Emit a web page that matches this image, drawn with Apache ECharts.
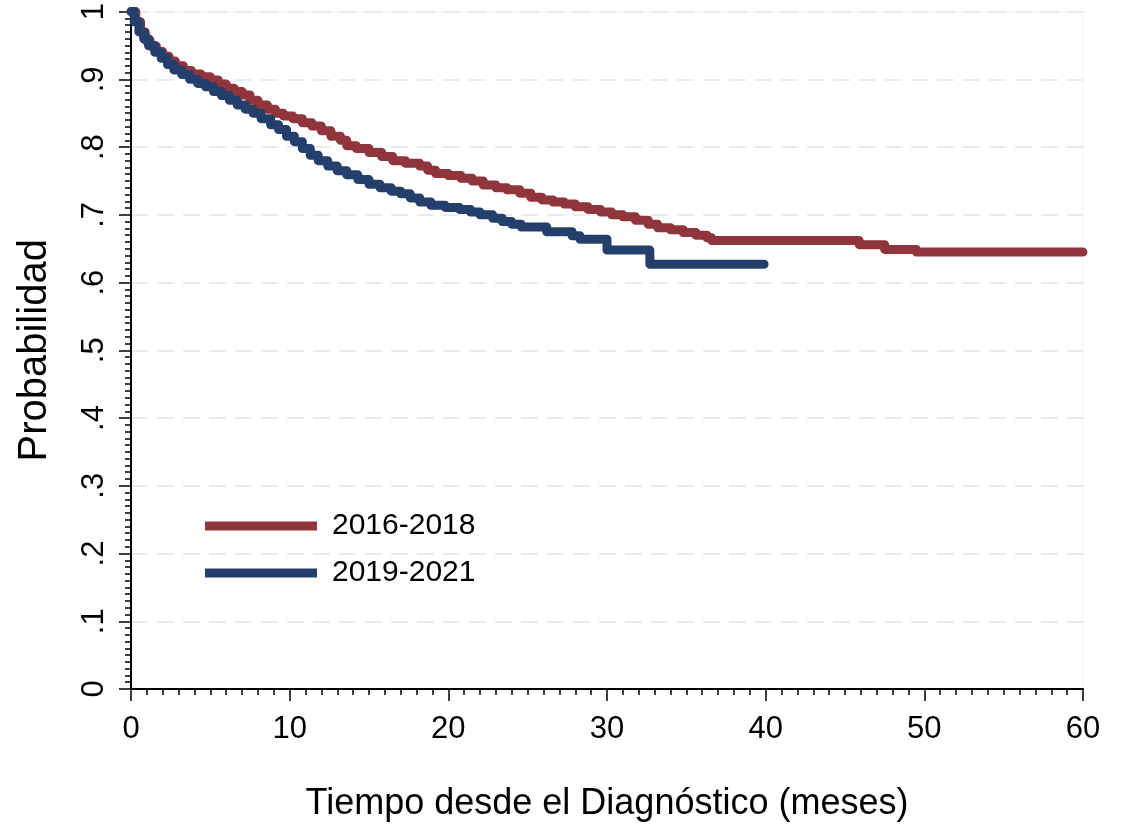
<!DOCTYPE html>
<html>
<head>
<meta charset="utf-8">
<title>Probabilidad</title>
<script src="https://cdn.jsdelivr.net/npm/echarts@6/dist/echarts.min.js"></script>
<style>
  html, body { margin: 0; padding: 0; background: #fff; }
  #chart { width: 1122px; height: 832px; }
</style>
</head>
<body>
<div id="chart"></div>
<script>
// curvas (meses, probabilidad)
const seriesNames = ['2016-2018', '2019-2021']

const redTimes = [0, 0.3, 0.6, 0.9, 1.2, 1.6, 2.0, 2.4, 2.8, 3.3, 3.8, 4.4, 5.0, 5.5, 6.0, 6.5, 7.0, 7.5,
  8.0, 8.6, 9.1, 9.6, 10.2, 10.8, 11.4, 12.0, 12.6, 13.2, 13.6, 14.2, 15.0, 15.8, 16.5, 17.3,
  18.2, 18.7, 19.2, 20.0, 20.8, 21.5, 22.2, 23.0, 23.7, 24.5, 25.2, 25.9, 26.6, 27.3, 28.0,
  28.8, 29.6, 30.3, 31.0, 31.8, 32.6, 33.2, 34.0, 34.8, 35.6, 36.3, 36.6, 45.9, 47.5, 49.5, 60]
const redSurv = [1.000, 0.985, 0.970, 0.958, 0.949, 0.941, 0.934, 0.927, 0.920, 0.913, 0.908, 0.904,
  0.899, 0.893, 0.887, 0.882, 0.877, 0.869, 0.862, 0.856, 0.850, 0.846, 0.842, 0.836, 0.831,
  0.824, 0.816, 0.810, 0.802, 0.798, 0.792, 0.786, 0.780, 0.776, 0.772, 0.766, 0.761, 0.758,
  0.754, 0.750, 0.744, 0.740, 0.737, 0.732, 0.726, 0.722, 0.719, 0.716, 0.712, 0.708, 0.704,
  0.700, 0.697, 0.692, 0.686, 0.681, 0.678, 0.674, 0.670, 0.666, 0.662, 0.656, 0.649, 0.645, 0.645]

const blueTimes = [0, 0.2, 0.5, 0.8, 1.1, 1.5, 1.9, 2.3, 2.7, 3.2, 3.7, 4.2, 4.7, 5.2, 5.7, 6.2, 6.7,
  7.2, 7.7, 8.2, 8.8, 9.3, 9.8, 10.3, 10.8, 11.3, 11.8, 12.4, 13.0, 13.6, 14.3, 15.0, 15.7,
  16.4, 17.0, 17.6, 18.2, 18.9, 19.8, 20.7, 21.4, 22.0, 22.8, 23.4, 24.0, 24.6, 26.2, 27.8,
  28.3, 30.0, 32.7, 39.9]
const blueSurv = [1.000, 0.985, 0.970, 0.960, 0.950, 0.940, 0.931, 0.922, 0.914, 0.907, 0.900, 0.894,
  0.889, 0.882, 0.876, 0.869, 0.862, 0.856, 0.850, 0.842, 0.833, 0.826, 0.816, 0.808, 0.798,
  0.788, 0.780, 0.772, 0.765, 0.759, 0.752, 0.745, 0.740, 0.735, 0.731, 0.725, 0.719, 0.714,
  0.711, 0.708, 0.704, 0.700, 0.695, 0.690, 0.686, 0.682, 0.675, 0.669, 0.664, 0.648, 0.627, 0.627]

const xTicks = [0, 10, 20, 30, 40, 50, 60]
const yTickLabels = ['0', '.1', '.2', '.3', '.4', '.5', '.6', '.7', '.8', '.9', '1']

const colors = ['#90353b', '#243f6c']
const font = 'Arial, "Liberation Sans", sans-serif'

const zip = (xs, ys) => xs.map((x, i) => [x, ys[i]])

const chart = echarts.init(document.getElementById('chart'), null, { renderer: 'canvas' })

chart.setOption({
  animation: false,
  backgroundColor: '#fff',
  textStyle: { fontFamily: font, color: '#000' },
  grid: {
    left: 131, right: 39, top: 8, bottom: 143,
    show: true, borderColor: '#eef3f6', borderWidth: 1
  },
  legend: {
    left: 200, top: 506,
    orient: 'vertical',
    itemWidth: 112, itemHeight: 9, itemGap: 17,
    icon: 'rect',
    textStyle: { fontSize: 30, fontFamily: font, color: '#000', padding: [0, 0, 0, 10] },
    data: seriesNames
  },
  xAxis: {
    type: 'value',
    min: xTicks[0], max: xTicks[xTicks.length - 1], interval: 10,
    name: 'Tiempo desde el Diagnóstico (meses)',
    nameLocation: 'middle', nameGap: 97,
    nameTextStyle: { fontSize: 36, fontFamily: font, color: '#000' },
    axisLine: { show: true, lineStyle: { color: '#000', width: 2 } },
    axisTick: { show: true, length: 12, lineStyle: { color: '#000', width: 1.5 } },
    minorTick: { show: true, splitNumber: 10, length: 6, lineStyle: { color: '#000', width: 1.5 } },
    axisLabel: { fontSize: 31, margin: 25, color: '#000', fontFamily: font },
    splitLine: { show: false }
  },
  yAxis: {
    type: 'value',
    min: 0, max: 1, interval: 0.1,
    name: 'Probabilidad',
    nameLocation: 'middle', nameGap: 76,
    nameTextStyle: { fontSize: 40, fontFamily: font, color: '#000' },
    axisLine: { show: true, lineStyle: { color: '#000', width: 2 } },
    axisTick: { show: true, length: 12, lineStyle: { color: '#000', width: 1.5 } },
    minorTick: { show: true, splitNumber: 10, length: 6, lineStyle: { color: '#000', width: 1.5 } },
    axisLabel: {
      fontSize: 31, margin: 21, rotate: 90, color: '#000', fontFamily: font,
      formatter: (v) => yTickLabels[Math.round(v * 10)]
    },
    splitLine: { show: true, lineStyle: { color: '#dde8ef', width: 1.5, type: [17, 9] } }
  },
  series: [
    {
      name: seriesNames[0],
      type: 'line',
      step: 'end',
      showSymbol: false,
      color: colors[0],
      lineStyle: { width: 9, color: colors[0], cap: 'round', join: 'round' },
      data: zip(redTimes, redSurv)
    },
    {
      name: seriesNames[1],
      type: 'line',
      step: 'end',
      showSymbol: false,
      color: colors[1],
      lineStyle: { width: 9, color: colors[1], cap: 'round', join: 'round' },
      data: zip(blueTimes, blueSurv)
    }
  ]
})
</script>
</body>
</html>
